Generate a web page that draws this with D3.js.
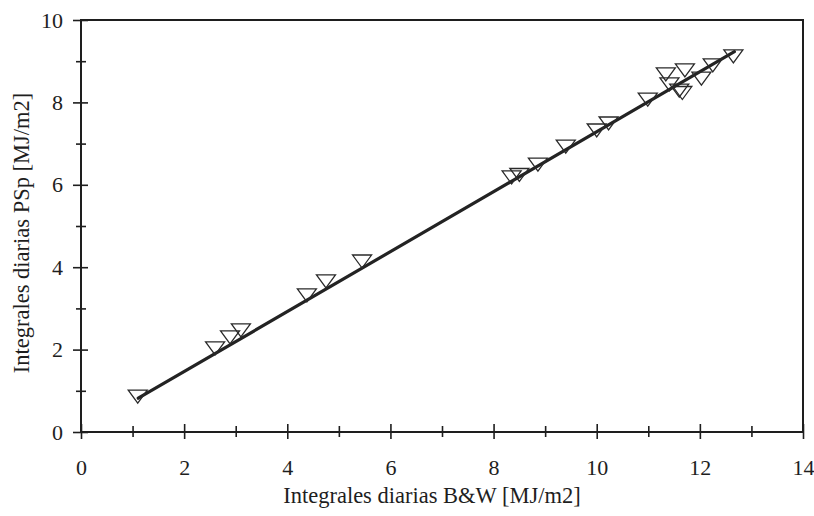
<!DOCTYPE html>
<html>
<head>
<meta charset="utf-8">
<script src="https://cdn.jsdelivr.net/npm/d3@7"></script>
<style>
    body { margin: 0; background: #fff; }
    .chart text { font-family: "Liberation Serif", "Times New Roman", serif; fill: #1e1e1e; }
</style>
</head>
<body>
<div id="scatter-chart"></div>
<script>
// values: B&W daily integrals vs PSp daily integrals [MJ/m2]
var bwValues  = [1.10, 2.60, 2.89, 3.10, 4.38, 4.75, 5.45, 8.35, 8.50, 8.86, 9.40,
                 10.00, 10.23, 10.99, 11.34, 11.41, 11.60, 11.66, 11.71, 12.03, 12.25, 12.65];
var pspValues = [0.87, 2.04, 2.31, 2.48, 3.33, 3.67, 4.15, 6.19, 6.25, 6.50, 6.94,
                 7.33, 7.50, 8.08, 8.69, 8.45, 8.30, 8.24, 8.79, 8.59, 8.91, 9.13];

// fitted line end points
var fitX = [1.11, 12.67];
var fitY = [0.82, 9.23];

var xTicks = d3.range(0, 15);
var yTicks = d3.range(0, 11);

var xTitle = "Integrales diarias B&W [MJ/m2]";
var yTitle = "Integrales diarias PSp [MJ/m2]";

var width = 814, height = 516;
var margin = {top: 20, right: 11, bottom: 84, left: 81};
var w = width - margin.left - margin.right;
var h = height - margin.top - margin.bottom;

var svg = d3.select('#scatter-chart')
    .append('svg')
    .attr('class', 'chart')
    .attr('width', width)
    .attr('height', height);

var g = svg.append('g').attr('transform', 'translate(' + margin.left + ',' + margin.top + ')');

var x = d3.scaleLinear().domain([0, 14]).range([0, w]);
var y = d3.scaleLinear().domain([0, 10]).range([h, 0]);

//x axis, ticks cross the line
var xAxis = g.append('g')
    .attr('transform', 'translate(0,' + h + ')')
    .call(d3.axisBottom(x)
        .tickValues(xTicks)
        .tickSize(0)
        .tickPadding(27)
        .tickFormat(function(d) { return d % 2 ? '' : d; }));
xAxis.select('.domain').remove();
xAxis.selectAll('.tick line')
    .attr('stroke', '#1e1e1e')
    .attr('stroke-width', 1.6)
    .attr('y1', function(d) { return d % 2 ? -6 : -8; })
    .attr('y2', function(d) { return d % 2 ? 5 : 7; });
xAxis.selectAll('.tick text').style('font-size', '22px');

//y axis
var yAxis = g.append('g')
    .call(d3.axisLeft(y)
        .tickValues(yTicks)
        .tickSize(0)
        .tickPadding(18)
        .tickFormat(function(d) { return d % 2 ? '' : d; }));
yAxis.select('.domain').remove();
yAxis.selectAll('.tick line')
    .attr('stroke', '#1e1e1e')
    .attr('stroke-width', 1.6)
    .attr('x1', function(d) { return d % 2 ? -5 : -8; })
    .attr('x2', function(d) { return d % 2 ? 5 : 7; });
yAxis.selectAll('.tick text').style('font-size', '22px');

// frame around the plot
g.append('rect')
    .attr('x', 0)
    .attr('y', 0)
    .attr('width', w)
    .attr('height', h)
    .attr('fill', 'none')
    .attr('stroke', '#1e1e1e')
    .attr('stroke-width', 2);

// fitted line
var line = d3.line()
    .x(function(d) { return x(d[0]); })
    .y(function(d) { return y(d[1]); });

g.append('path')
    .datum(d3.zip(fitX, fitY))
    .attr('fill', 'none')
    .attr('stroke', '#232323')
    .attr('stroke-width', 3.2)
    .attr('stroke-linecap', 'round')
    .attr('d', line);

// open down-pointing triangles
var tri = 'M-9.5,-6L9.5,-6L0,7Z';
g.selectAll('.pt')
    .data(d3.zip(bwValues, pspValues))
    .enter()
    .append('path')
    .attr('class', 'pt')
    .attr('d', tri)
    .attr('transform', function(d) { return 'translate(' + x(d[0]) + ',' + y(d[1]) + ')'; })
    .attr('fill', 'none')
    .attr('stroke', '#2a2a2a')
    .attr('stroke-width', 1.3)
    .attr('stroke-linejoin', 'miter');

// axis titles
svg.append('text')
    .attr('x', 432)
    .attr('y', 503)
    .attr('text-anchor', 'middle')
    .style('font-size', '22.5px')
    .text(xTitle);

svg.append('text')
    .attr('transform', 'translate(29,233) rotate(-90)')
    .attr('text-anchor', 'middle')
    .style('font-size', '22.5px')
    .text(yTitle);
</script>
</body>
</html>
